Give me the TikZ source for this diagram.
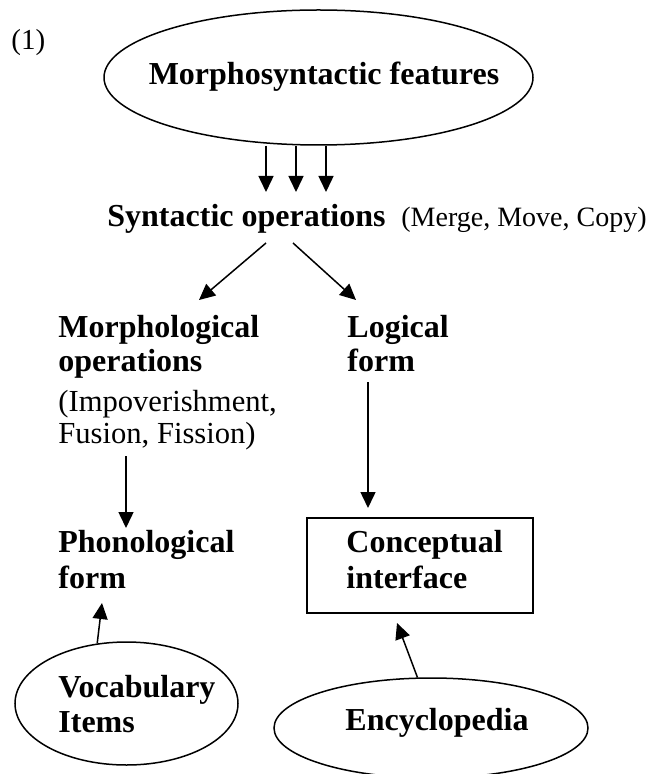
\documentclass[tikz,border=0pt]{standalone}
\usepackage{fontspec}
\setmainfont{Liberation Serif}
\usetikzlibrary{shapes.geometric,arrows.meta}
\tikzset{
  bt/.style={font=\bfseries\fontsize{16}{18}\selectfont, inner sep=0pt},
  rt/.style={font=\fontsize{14}{16}\selectfont, inner sep=0pt},
  rtl/.style={font=\fontsize{15.3}{17}\selectfont, inner sep=0pt},
  oval/.style={ellipse, draw, line width=0.75pt, inner sep=0pt},
  boxed/.style={rectangle, draw, line width=0.75pt, inner sep=0pt},
  arr/.style={line width=0.75pt, -{Triangle[length=8pt,width=7.5pt]}},
}
\begin{document}
\begin{tikzpicture}[x=0.5pt,y=-0.5pt]
\useasboundingbox (0,0) rectangle (652,774);
% label
\node[rt, font=\fontsize{14.5}{16}\selectfont, anchor=base west] (num) at (11,50) {(1)};
% top ellipse
\node[oval, minimum width=214.5pt, minimum height=67.5pt] (mf) at (318.5,77.5) {};
\node[bt, anchor=base] (mft) at (324,85) {Morphosyntactic features};
\coordinate (t1) at (266,192);
\coordinate (t2) at (296,192);
\coordinate (t3) at (326,192);
\draw[arr] (mf.south -| t1) -- (t1);
\draw[arr] (mf.south -| t2) -- (t2);
\draw[arr] (mf.south -| t3) -- (t3);
% syntactic operations
\node[bt, anchor=base west] (syn) at (107,227) {Syntactic operations};
\node[rt, anchor=base east] (mmc) at (647,227) {(Merge, Move, Copy)};
\coordinate (dl0) at (266,243);
\coordinate (dl1) at (199,300);
\coordinate (dr0) at (293,243);
\coordinate (dr1) at (356,300);
\draw[arr] (dl0) -- (dl1);
\draw[arr] (dr0) -- (dr1);
% morphological operations
\node[bt, anchor=base west] (mo1) at (58,337) {Morphological};
\node[bt, anchor=base west] (mo2) at (58,371) {operations};
\node[rtl, anchor=base west] (mo3) at (58,411) {(Impoverishment,};
\node[rtl, anchor=base west] (mo4) at (58,443) {Fusion, Fission)};
% logical form
\node[bt, anchor=base west] (lf1) at (347,337) {Logical};
\node[bt, anchor=base west] (lf2) at (347,371) {form};
% phonological form
\node[bt, anchor=base west] (pf1) at (58,552) {Phonological};
\node[bt, anchor=base west] (pf2) at (58,588) {form};
% conceptual interface
\node[boxed, minimum width=113pt, minimum height=47.5pt] (ci) at (420,565.5) {};
\node[bt, anchor=base west] (ci1) at (346,552) {Conceptual};
\node[bt, anchor=base west] (ci2) at (346,588) {interface};
% vertical arrows
\coordinate (m0) at (126,456);
\coordinate (m1) at (126,528);
\draw[arr] (m0) -- (m1);
\coordinate (l0) at (368,382);
\coordinate (l1) at (368,508);
\draw[arr] (l0) -- (l1);
% vocabulary items
\node[oval, minimum width=111.5pt, minimum height=61.5pt] (vi) at (126.5,703.5) {};
\node[bt, anchor=base west] (vi1) at (58,697) {Vocabulary};
\node[bt, anchor=base west] (vi2) at (58,732) {Items};
\coordinate (vtip) at (102,603);
\draw[arr] (vi.116.7) -- (vtip);
% encyclopedia
\node[oval, minimum width=157pt, minimum height=50pt] (enc) at (431,728) {};
\node[bt, anchor=base] (enct) at (437,730) {Encyclopedia};
\coordinate (etip) at (397,623);
\draw[arr] (enc.105.7) -- (etip);
\end{tikzpicture}
\end{document}
